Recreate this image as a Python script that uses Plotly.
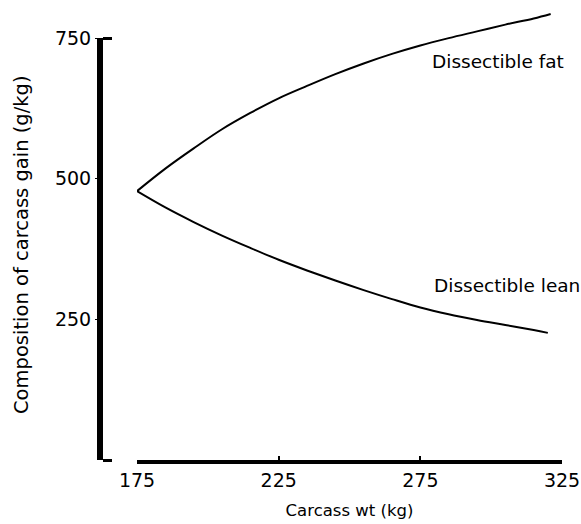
import plotly.graph_objects as go

# Data
carcass_wt_fat = [175, 185, 195, 205, 215, 225, 235, 245, 255, 265, 275, 285, 295, 305, 315, 321]
fat_gain = [478, 518, 554, 588, 617, 643, 665, 686, 705, 722, 737, 750, 762, 774, 785, 793]

carcass_wt_lean = [175, 185, 195, 205, 215, 225, 235, 245, 255, 265, 275, 285, 295, 305, 315, 320]
lean_gain = [478, 449, 423, 399, 377, 356, 337, 319, 302, 286, 271, 259, 249, 240, 231, 226]

x_ticks = [175, 225, 275, 325]
y_ticks = [0, 250, 500, 750]
y_ticktext = ["", "250", "500", "750"]

FONT = "DejaVu Sans"

fig = go.Figure()
fig.add_trace(go.Scatter(x=carcass_wt_fat, y=fat_gain, mode="lines",
                         line=dict(color="black", width=2, shape="spline", smoothing=1.0),
                         showlegend=False, yaxis="y"))
fig.add_trace(go.Scatter(x=carcass_wt_lean, y=lean_gain, mode="lines",
                         line=dict(color="black", width=2, shape="spline", smoothing=1.0),
                         showlegend=False, yaxis="y"))
# invisible trace so the visible left axis (yaxis2) is drawn
fig.add_trace(go.Scatter(x=[175], y=[0], yaxis="y2", mode="markers",
                         marker=dict(opacity=0), showlegend=False, hoverinfo="skip"))

FIG_W, FIG_H = 581, 524
L, R, T, B = 100, 19, 10, 64
W = FIG_W - L - R
H = FIG_H - T - B
x_start = (137 - L) / W

fig.update_layout(
    width=FIG_W, height=FIG_H,
    margin=dict(l=L, r=R, t=T, b=B),
    plot_bgcolor="rgba(0,0,0,0)", paper_bgcolor="white",
    font=dict(family=FONT, size=18, color="black"),
    xaxis=dict(
        domain=[x_start, 1], range=[175, 325], anchor="y", automargin=False,
        tickvals=x_ticks, ticks="inside", ticklen=4, tickwidth=1.5, tickcolor="black",
        showline=True, linewidth=4, linecolor="black",
        showgrid=False, zeroline=False,
        tickfont=dict(family=FONT, size=19),
        minor=dict(tickvals=[175, 325], ticks="inside", ticklen=8, tickwidth=2, tickcolor="black"),
        title=dict(text="Carcass wt (kg)", font=dict(family=FONT, size=16.5), standoff=16),
    ),
    yaxis=dict(
        domain=[0, 1], range=[0, 800], visible=False, automargin=False,
    ),
    yaxis2=dict(
        domain=[0, 750 / 800], range=[0, 750], anchor="free", position=0, automargin=False,
        tickvals=y_ticks, ticktext=y_ticktext,
        ticks="outside", ticklen=2, tickwidth=1, tickcolor="black",
        showline=True, linewidth=6, linecolor="black",
        showgrid=False, zeroline=False,
        tickfont=dict(family=FONT, size=19),
        minor=dict(tickvals=[0, 750], ticks="inside", ticklen=9, tickwidth=3, tickcolor="black"),
    ),
)

# y-axis title as rotated text, placed to match the reference
fig.add_annotation(x=(22 - L) / W, y=(T + H - 245) / H, xref="paper", yref="paper",
                   text="Composition of carcass gain (g/kg)", textangle=-90,
                   showarrow=False, xanchor="center", yanchor="middle",
                   font=dict(family=FONT, size=19.5))

fig.add_annotation(x=278.5, y=709, xref="x", yref="y", text="Dissectible fat",
                   showarrow=False, xanchor="left", yanchor="middle",
                   font=dict(family=FONT, size=18.5))
fig.add_annotation(x=279, y=311, xref="x", yref="y", text="Dissectible lean",
                   showarrow=False, xanchor="left", yanchor="middle",
                   font=dict(family=FONT, size=18.5))

fig.write_html("out.html",
               config={"displayModeBar": False},
               post_script="document.body.style.margin='0';document.body.style.overflow='hidden';")
